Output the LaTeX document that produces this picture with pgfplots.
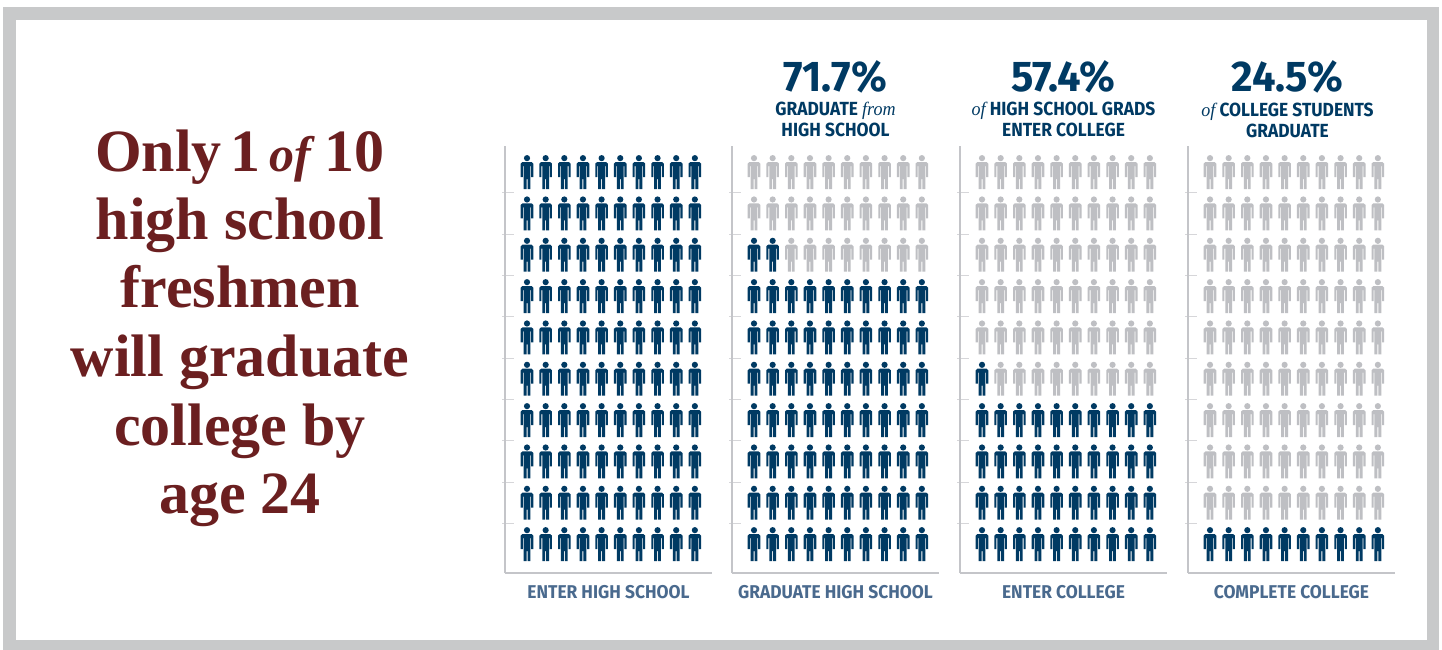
\documentclass[border=0pt]{standalone}
\usepackage{fontspec}
\usepackage{pgfplots}
\pgfplotsset{compat=1.18}
\setmainfont{Liberation Serif}
\newfontfamily\hdbig[FakeStretch=0.97]{Fira Sans}
\newfontfamily\hdsub[FakeStretch=0.915]{Fira Sans}
\newfontfamily\hdlab[FakeStretch=0.94]{Fira Sans}
\newfontfamily\hdserif[FakeStretch=0.95]{Liberation Serif}
\definecolor{navy}{HTML}{003A63}
\definecolor{slate}{HTML}{4A6A8E}
\definecolor{idle}{HTML}{BEBFC3}
\definecolor{frame}{HTML}{C8C9CA}
\definecolor{rulegray}{HTML}{C4C5C9}
\definecolor{tickgray}{HTML}{D6D6D9}
\definecolor{maroon}{HTML}{6B1F20}

% Pictogram of one person, 34pt tall, centred on the data point
\pgfdeclareplotmark{person}{%
  \pgfpathcircle{\pgfqpoint{0pt}{13.9pt}}{3.1pt}%
  \pgfpathmoveto{\pgfqpoint{-4.6pt}{10pt}}%
  \pgfpathlineto{\pgfqpoint{4.6pt}{10pt}}%
  \pgfpathlineto{\pgfqpoint{6.3pt}{8.4pt}}%
  \pgfpathlineto{\pgfqpoint{6.3pt}{-5pt}}%
  \pgfpathlineto{\pgfqpoint{4.2pt}{-5pt}}%
  \pgfpathlineto{\pgfqpoint{4.2pt}{6pt}}%
  \pgfpathlineto{\pgfqpoint{3.4pt}{6pt}}%
  \pgfpathlineto{\pgfqpoint{3.4pt}{-17pt}}%
  \pgfpathlineto{\pgfqpoint{0.5pt}{-17pt}}%
  \pgfpathlineto{\pgfqpoint{0.5pt}{-7pt}}%
  \pgfpathlineto{\pgfqpoint{-0.5pt}{-7pt}}%
  \pgfpathlineto{\pgfqpoint{-0.5pt}{-17pt}}%
  \pgfpathlineto{\pgfqpoint{-3.4pt}{-17pt}}%
  \pgfpathlineto{\pgfqpoint{-3.4pt}{6pt}}%
  \pgfpathlineto{\pgfqpoint{-4.2pt}{6pt}}%
  \pgfpathlineto{\pgfqpoint{-4.2pt}{-5pt}}%
  \pgfpathlineto{\pgfqpoint{-6.3pt}{-5pt}}%
  \pgfpathlineto{\pgfqpoint{-6.3pt}{8.4pt}}%
  \pgfpathclose
  \pgfusepathqfill
}

\pgfplotsset{
  panel/.style={
    scale only axis, width=207pt, height=427pt,
    anchor=south west, clip=false,
    xmin=-0.18, xmax=10.92, ymin=0.30, ymax=10.63,
    axis x line*=bottom, axis y line*=left,
    axis line style={-, draw=rulegray, line width=2.4pt},
    xtick=\empty,
    ytick={1.5,2.5,3.5,4.5,5.5,6.5,7.5,8.5,9.5},
    yticklabels={},
    tick align=inside, major tick length=12pt,
    y tick style={draw=tickgray, line width=1pt, xshift=-3pt},
    xlabel style={at={(axis description cs:0.5,0)}, anchor=base, yshift=-25pt,
      font=\hdlab\bfseries\fontsize{18.5}{20}\selectfont, text=slate},
  },
  blue/.style={only marks, mark=person, mark options={fill=navy, draw=none}},
  gray/.style={only marks, mark=person, mark options={fill=idle, draw=none}},
}
\newcommand{\bignum}[2][0pt]{\node[anchor=base, text=navy, font=\hdbig\bfseries\fontsize{43}{45}\selectfont]
  at (rel axis cs:0.5,1) [xshift=#1, yshift=55pt] {#2};}
\newcommand{\subline}[3][0pt]{\node[anchor=base, text=navy, font=\hdsub\bfseries\fontsize{19}{21}\selectfont]
  at (rel axis cs:0.5,1) [xshift=#1, yshift=#2] {#3};}
\newcommand{\soft}[1]{{\hdserif\itshape\mdseries #1}}

\begin{document}
\begin{tikzpicture}[x=1pt,y=1pt]
\useasboundingbox (0,0) rectangle (1442,-650);
\fill[white] (0,0) rectangle (1442,-650);
\fill[frame] (3,-7) rectangle (1439,-650);
\fill[white] (16,-20) rectangle (1427,-640);

% Headline, one node per line on its baseline
\begin{scope}[every node/.style={anchor=base, text=maroon, font=\bfseries\fontsize{60}{60}\selectfont}]
\node at (240,-171) {Only\hspace{-.1em} 1\hspace{-.1em} {\fontsize{50}{50}\selectfont\textit{of}}\hspace{-.1em} 10};
\node at (240,-239) {high school};
\node at (240,-307) {freshmen};
\node at (240,-376) {will graduate};
\node at (240,-445) {college by};
\node at (240,-513) {age 24};
\end{scope}

% Enter high school
\begin{axis}[panel, at={(505pt,-573pt)}, xlabel={ENTER HIGH SCHOOL}]
\addplot[blue] coordinates {
(1,1)(2,1)(3,1)(4,1)(5,1)(6,1)(7,1)(8,1)(9,1)(10,1)
(1,2)(2,2)(3,2)(4,2)(5,2)(6,2)(7,2)(8,2)(9,2)(10,2)
(1,3)(2,3)(3,3)(4,3)(5,3)(6,3)(7,3)(8,3)(9,3)(10,3)
(1,4)(2,4)(3,4)(4,4)(5,4)(6,4)(7,4)(8,4)(9,4)(10,4)
(1,5)(2,5)(3,5)(4,5)(5,5)(6,5)(7,5)(8,5)(9,5)(10,5)
(1,6)(2,6)(3,6)(4,6)(5,6)(6,6)(7,6)(8,6)(9,6)(10,6)
(1,7)(2,7)(3,7)(4,7)(5,7)(6,7)(7,7)(8,7)(9,7)(10,7)
(1,8)(2,8)(3,8)(4,8)(5,8)(6,8)(7,8)(8,8)(9,8)(10,8)
(1,9)(2,9)(3,9)(4,9)(5,9)(6,9)(7,9)(8,9)(9,9)(10,9)
(1,10)(2,10)(3,10)(4,10)(5,10)(6,10)(7,10)(8,10)(9,10)(10,10)
};
\end{axis}

% Graduate high school: 72 of 100
\begin{axis}[panel, at={(732pt,-573pt)}, xlabel={GRADUATE HIGH SCHOOL}]
\addplot[blue] coordinates {
(1,1)(2,1)(3,1)(4,1)(5,1)(6,1)(7,1)(8,1)(9,1)(10,1)
(1,2)(2,2)(3,2)(4,2)(5,2)(6,2)(7,2)(8,2)(9,2)(10,2)
(1,3)(2,3)(3,3)(4,3)(5,3)(6,3)(7,3)(8,3)(9,3)(10,3)
(1,4)(2,4)(3,4)(4,4)(5,4)(6,4)(7,4)(8,4)(9,4)(10,4)
(1,5)(2,5)(3,5)(4,5)(5,5)(6,5)(7,5)(8,5)(9,5)(10,5)
(1,6)(2,6)(3,6)(4,6)(5,6)(6,6)(7,6)(8,6)(9,6)(10,6)
(1,7)(2,7)(3,7)(4,7)(5,7)(6,7)(7,7)(8,7)(9,7)(10,7)
(1,8)(2,8)
};
\addplot[gray] coordinates {
(3,8)(4,8)(5,8)(6,8)(7,8)(8,8)(9,8)(10,8)
(1,9)(2,9)(3,9)(4,9)(5,9)(6,9)(7,9)(8,9)(9,9)(10,9)
(1,10)(2,10)(3,10)(4,10)(5,10)(6,10)(7,10)(8,10)(9,10)(10,10)
};
\bignum{71.7\%}
\subline{31pt}{GRADUATE \soft{from}}
\subline{10pt}{HIGH SCHOOL}
\end{axis}

% Enter college: 41 of 100
\begin{axis}[panel, at={(960pt,-573pt)}, xlabel={ENTER COLLEGE}]
\addplot[blue] coordinates {
(1,1)(2,1)(3,1)(4,1)(5,1)(6,1)(7,1)(8,1)(9,1)(10,1)
(1,2)(2,2)(3,2)(4,2)(5,2)(6,2)(7,2)(8,2)(9,2)(10,2)
(1,3)(2,3)(3,3)(4,3)(5,3)(6,3)(7,3)(8,3)(9,3)(10,3)
(1,4)(2,4)(3,4)(4,4)(5,4)(6,4)(7,4)(8,4)(9,4)(10,4)
(1,5)
};
\addplot[gray] coordinates {
(2,5)(3,5)(4,5)(5,5)(6,5)(7,5)(8,5)(9,5)(10,5)
(1,6)(2,6)(3,6)(4,6)(5,6)(6,6)(7,6)(8,6)(9,6)(10,6)
(1,7)(2,7)(3,7)(4,7)(5,7)(6,7)(7,7)(8,7)(9,7)(10,7)
(1,8)(2,8)(3,8)(4,8)(5,8)(6,8)(7,8)(8,8)(9,8)(10,8)
(1,9)(2,9)(3,9)(4,9)(5,9)(6,9)(7,9)(8,9)(9,9)(10,9)
(1,10)(2,10)(3,10)(4,10)(5,10)(6,10)(7,10)(8,10)(9,10)(10,10)
};
\bignum{57.4\%}
\subline{31pt}{\soft{of} HIGH SCHOOL GRADS}
\subline{10pt}{ENTER COLLEGE}
\end{axis}

% Complete college: 10 of 100
\begin{axis}[panel, at={(1188pt,-573pt)}, xlabel={COMPLETE COLLEGE}]
\addplot[blue] coordinates {
(1,1)(2,1)(3,1)(4,1)(5,1)(6,1)(7,1)(8,1)(9,1)(10,1)
};
\addplot[gray] coordinates {
(1,2)(2,2)(3,2)(4,2)(5,2)(6,2)(7,2)(8,2)(9,2)(10,2)
(1,3)(2,3)(3,3)(4,3)(5,3)(6,3)(7,3)(8,3)(9,3)(10,3)
(1,4)(2,4)(3,4)(4,4)(5,4)(6,4)(7,4)(8,4)(9,4)(10,4)
(1,5)(2,5)(3,5)(4,5)(5,5)(6,5)(7,5)(8,5)(9,5)(10,5)
(1,6)(2,6)(3,6)(4,6)(5,6)(6,6)(7,6)(8,6)(9,6)(10,6)
(1,7)(2,7)(3,7)(4,7)(5,7)(6,7)(7,7)(8,7)(9,7)(10,7)
(1,8)(2,8)(3,8)(4,8)(5,8)(6,8)(7,8)(8,8)(9,8)(10,8)
(1,9)(2,9)(3,9)(4,9)(5,9)(6,9)(7,9)(8,9)(9,9)(10,9)
(1,10)(2,10)(3,10)(4,10)(5,10)(6,10)(7,10)(8,10)(9,10)(10,10)
};
\bignum[-4pt]{24.5\%}
\subline[-4pt]{30pt}{\soft{of} COLLEGE STUDENTS}
\subline[-4pt]{9pt}{GRADUATE}
\end{axis}
\end{tikzpicture}
\end{document}
